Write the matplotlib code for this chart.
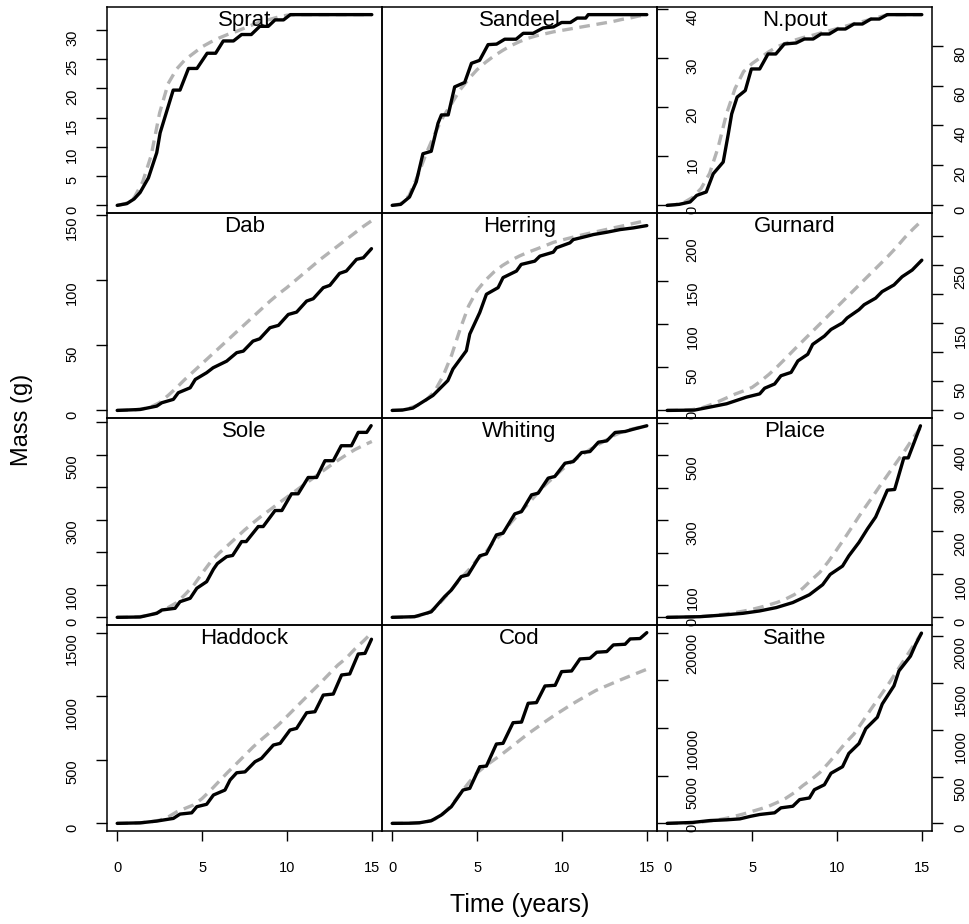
import numpy as np
import matplotlib.pyplot as plt

plt.rcParams['font.family'] = ['Liberation Sans', 'DejaVu Sans']

# half-year grid of the smooth (dashed) growth curves
years = np.linspace(0, 15, 31)
year_ticks = [0, 5, 10, 15]

# ---- data: stepped model (black) and smooth fit (grey) ----
sprat_t = [0, 0.57, 1.0, 1.35, 1.84, 2.33, 2.53, 3.3, 3.7, 4.2, 4.7, 5.3, 5.8, 6.25, 6.85,
           7.33, 7.9, 8.4, 8.9, 9.3, 9.8, 10.2, 15]
sprat_mass = [0, 0.3, 1.1, 2.2, 4.7, 9.0, 12.4, 19.7, 19.7, 23.4, 23.4, 26.0, 26.0, 28.1, 28.1,
              29.2, 29.2, 30.6, 30.6, 31.7, 31.7, 32.6, 32.6]
sprat_fit = [0, 0.3, 1.3, 4.0, 8.5, 15.8, 20.8, 23.3, 24.9, 26.0, 27.1, 27.9, 28.6, 29.2, 29.7,
             30.3, 30.9, 31.4, 31.8, 32.2, 32.5, 32.6, 32.6, 32.6, 32.6, 32.6, 32.6, 32.6, 32.6,
             32.6, 32.6]
sprat_yticks = [0, 5, 10, 15, 20, 25, 30]
sprat_ylabels = ["0", "5", "10", "15", "20", "25", "30"]

sandeel_t = [0, 0.5, 1.02, 1.42, 1.81, 2.3, 2.7, 2.9, 3.3, 3.68, 4.27, 4.67, 5.15, 5.65, 6.15,
             6.63, 7.3, 7.72, 8.3, 8.9, 9.5, 9.98, 10.5, 10.9, 11.4, 11.55, 15]
sandeel_mass = [0, 0.2, 1.7, 4.8, 10.5, 11.0, 16.7, 18.4, 18.4, 24.1, 25.0, 28.9, 29.5, 32.7, 32.8,
                33.8, 33.8, 35.0, 35.0, 36.1, 36.3, 37.2, 37.2, 38.1, 38.1, 38.8, 38.8]
sandeel_fit = [0, 0.3, 2.0, 6.0, 10.5, 14.5, 18.0, 20.7, 23.5, 25.7, 27.6, 29.1, 30.4, 31.5, 32.5,
               33.3, 34.0, 34.5, 34.9, 35.3, 35.6, 35.9, 36.2, 36.5, 36.8, 37.1, 37.4, 37.8, 38.1,
               38.5, 38.8]
sandeel_yticks = [0, 10, 20, 30, 40]
sandeel_ylabels = ["0", "10", "20", "30", "40"]

npout_t = [0, 0.7, 1.35, 1.74, 2.3, 2.71, 3.3, 3.6, 3.8, 4.12, 4.6, 4.96, 5.45, 5.94, 6.4, 6.9,
           7.6, 8.08, 8.6, 9.06, 9.55, 10.04, 10.5, 11.0, 11.5, 12.0, 12.5, 12.96, 15]
npout_mass = [0, 0.5, 1.7, 5.0, 6.7, 15.8, 21.7, 35.8, 45.8, 54.2, 57.5, 68.3, 68.3, 75.8, 75.8,
              80.8, 81.3, 83.3, 83.3, 85.8, 85.8, 88.3, 88.3, 90.8, 90.8, 93.3, 93.3, 95.5, 95.5]
npout_fit = [0, 0.4, 1.5, 4.0, 8.5, 16.0, 29.0, 46.0, 58.5, 67.0, 71.0, 74.0, 77.0, 79.5, 81.2,
             82.7, 84.0, 85.0, 86.2, 87.3, 88.5, 89.7, 90.9, 92.0, 93.2, 94.3, 95.5, 95.5, 95.5,
             95.5, 95.5]
npout_yticks = [0, 20, 40, 60, 80]
npout_ylabels = ["0", "20", "40", "60", "80"]

dab_t = [0, 1.35, 2.33, 2.63, 3.31, 3.6, 4.3, 4.6, 5.27, 5.65, 6.45, 7.04, 7.43, 8.0, 8.4, 9.0,
         9.5, 10.08, 10.57, 11.16, 11.55, 12.14, 12.53, 13.1, 13.5, 14.1, 14.5, 14.98]
dab_mass = [0, 0.7, 3.3, 5.9, 8.5, 13.6, 17.4, 23.8, 29.0, 32.8, 37.9, 44.4, 45.6, 53.3, 55.1,
            63.6, 65.4, 73.8, 75.6, 84.1, 85.9, 94.4, 96.2, 105.4, 107.2, 116.2, 117.4, 124.4]
dab_fit = [0, 0.1, 0.4, 1.2, 2.8, 6.0, 11.5, 17.5, 24.0, 30.0, 36.0, 42.0, 48.0, 54.0, 60.0, 66.0,
           72.0, 78.0, 84.0, 89.5, 94.5, 100.0, 105.5, 111.0, 116.5, 121.5, 126.5, 131.5, 136.5,
           141.5, 146.0]
dab_yticks = [0, 50, 100, 150]
dab_ylabels = ["0", "50", "100", "150"]

herring_t = [0, 0.6, 1.22, 2.4, 3.28, 3.58, 4.37, 4.57, 5.16, 5.55, 6.24, 6.53, 7.32, 7.6, 8.4,
             8.7, 9.49, 9.68, 10.47, 10.67, 11.46, 11.85, 12.64, 13.43, 14.2, 15]
herring_mass = [0, 0.4, 2.7, 17.3, 34.6, 48.0, 69.2, 88.5, 113.5, 134.6, 142.3, 153.9, 161.5,
                169.2, 173.0, 178.8, 183.4, 188.5, 194.2, 198.0, 201.8, 203.8, 206.5, 209.6,
                211.5, 214.2]
herring_fit = [0, 0.4, 2.5, 6.0, 12.0, 22.0, 40.0, 64.0, 94.0, 121.0, 139.0, 151.0, 160.5, 168.0,
               174.0, 179.0, 183.3, 187.0, 190.8, 194.8, 197.5, 200.0, 202.5, 204.8, 207.0, 209.2,
               211.4, 213.5, 215.8, 218.0, 220.0]
herring_yticks = [0, 50, 100, 150, 200]
herring_ylabels = ["0", "50", "100", "150", "200"]

gurnard_t = [0, 1.6, 2.52, 3.5, 4.67, 5.45, 5.74, 6.33, 6.7, 7.3, 7.7, 8.28, 8.57, 9.26, 9.65,
             10.33, 10.6, 11.3, 11.6, 12.28, 12.66, 13.36, 13.84, 14.43, 15.0]
gurnard_mass = [0, 0.5, 5.7, 11.4, 22.8, 28.4, 38.1, 45.4, 59.5, 65.3, 85.0, 96.4, 113.4, 127.6,
                139.0, 150.3, 158.8, 173.0, 181.5, 192.8, 204.0, 215.5, 229.6, 241.0, 258.0]
gurnard_fit = [0, 0.1, 0.5, 1.5, 4.0, 9.0, 15.0, 21.5, 28.0, 33.5, 39.5, 50.0, 62.0, 75.5, 90.0,
               105.0, 119.5, 134.0, 148.5, 163.0, 177.5, 192.0, 206.5, 221.0, 235.5, 250.0,
               264.5, 280.0, 297.0, 312.0, 326.0]
gurnard_yticks = [0, 50, 100, 150, 200, 250, 300]
gurnard_ylabels = ["0", "50", "", "150", "", "250", ""]

sole_t = [0, 1.35, 2.33, 2.63, 3.41, 3.7, 4.3, 4.69, 5.27, 5.67, 5.9, 6.45, 6.8, 7.33, 7.6, 8.31,
          8.6, 9.3, 9.7, 10.27, 10.66, 11.25, 11.75, 12.24, 12.73, 13.2, 13.8, 14.2, 14.7, 14.96]
sole_mass = [0, 1.0, 12.3, 22.5, 27.7, 48.0, 58.5, 89.2, 109.5, 147.7, 165.0, 186.5, 190.0,
             232.6, 232.6, 278.8, 278.8, 328.0, 328.0, 379.4, 379.4, 429.5, 429.5, 481.0, 481.0,
             527.0, 527.0, 568.0, 568.0, 588.6]
sole_fit = [0, 0.2, 1.0, 3.0, 8.0, 17.0, 30.0, 45.0, 70.0, 98.0, 135.0, 170.0, 197.0, 220.0,
            244.0, 268.0, 290.0, 311.0, 330.0, 350.0, 369.0, 388.0, 407.0, 426.0, 445.0, 464.0,
            482.0, 499.0, 515.0, 528.0, 540.0]
sole_yticks = [0, 100, 200, 300, 400, 500, 600]
sole_ylabels = ["0", "100", "", "300", "", "500", ""]

whiting_t = [0, 1.32, 2.3, 3.09, 3.48, 4.07, 4.47, 5.16, 5.55, 6.14, 6.53, 7.22, 7.62, 8.21, 8.6,
             9.19, 9.58, 10.18, 10.67, 11.16, 11.65, 12.15, 12.64, 13.13, 13.72, 14.2, 15.0]
whiting_mass = [0, 2, 17, 64, 84, 126, 131, 190, 196, 254.6, 260, 319.5, 326.6, 378.3, 383.5,
                430, 435, 476, 481, 509, 512, 541, 545, 571, 574, 581, 591.7]
whiting_fit = [0, 0.3, 1.2, 3.5, 10.0, 27.0, 55.0, 86.0, 118.0, 146.0, 178.0, 200.0, 235.0,
               260.0, 293.0, 322.0, 350.0, 380.0, 408.0, 432.0, 456.0, 478.0, 495.0, 513.0,
               530.0, 544.0, 560.0, 572.0, 580.0, 586.0, 592.0]
whiting_yticks = [0, 100, 200, 300, 400, 500, 600]
whiting_ylabels = ["0", "100", "", "300", "", "500", ""]

plaice_t = [0, 1.93, 3.3, 4.47, 5.45, 6.43, 7.4, 8.38, 9.16, 9.6, 10.33, 10.7, 11.3, 11.8, 12.28,
            12.97, 13.4, 13.94, 14.2, 14.92]
plaice_mass = [0, 1.5, 5.4, 9.4, 14.9, 22.7, 34.4, 52.6, 76.0, 99.8, 119.3, 143.0, 174.5, 206.0,
               233.5, 296.0, 297.5, 371.0, 371.0, 445.7]
plaice_fit = [0, 0.1, 0.4, 1.0, 2.0, 3.5, 5.5, 8.0, 11.0, 14.5, 18.5, 23.5, 29.0, 35.0, 43.0,
              53.0, 68.0, 87.0, 105.0, 130.0, 158.0, 187.0, 217.0, 247.0, 275.0, 304.0, 332.0,
              360.0, 388.0, 418.0, 446.0]
plaice_yticks = [0, 100, 200, 300, 400]
plaice_ylabels = ["0", "100", "200", "300", "400"]

haddock_t = [0, 1.35, 2.33, 3.31, 3.7, 4.39, 4.69, 5.27, 5.67, 6.35, 6.65, 7.04, 7.53, 8.12, 8.5,
             9.2, 9.6, 10.18, 10.57, 11.16, 11.65, 12.14, 12.73, 13.22, 13.7, 14.2, 14.6, 14.98]
haddock_mass = [0, 4, 18, 39, 73, 83, 131, 150, 223, 262, 341, 398, 405, 485, 511, 616, 629, 734,
                747, 870, 878, 1009, 1017, 1167, 1175, 1332, 1337, 1448]
haddock_fit = [0, 0.5, 2.0, 6.0, 13.0, 25.0, 50.0, 90.0, 118.0, 145.0, 195.0, 260.0, 330.0,
               400.0, 466.0, 533.0, 600.0, 660.0, 716.0, 775.0, 841.0, 908.0, 975.0, 1042.0,
               1108.0, 1177.0, 1245.0, 1300.0, 1371.0, 1433.0, 1500.0]
haddock_yticks = [0, 500, 1000, 1500]
haddock_ylabels = ["0", "500", "1000", "1500"]

cod_t = [0, 1.0, 1.61, 2.3, 2.89, 3.48, 4.17, 4.57, 5.16, 5.55, 6.14, 6.53, 7.12, 7.62, 8.01, 8.5,
         9.0, 9.6, 9.98, 10.57, 11.06, 11.65, 12.05, 12.64, 13.03, 13.72, 14.02, 14.6, 15.0]
cod_mass = [0, 15, 63, 273, 872, 1744, 3498, 3676, 5945, 6015, 8330, 8400, 10567, 10630, 12605,
            12675, 14422, 14490, 15925, 15995, 17258, 17328, 17962, 18030, 18730, 18800, 19360,
            19400, 20020]
cod_fit = [0, 2, 10, 45, 150, 420, 1000, 1900, 3100, 4250, 5300, 6030, 6670, 7310, 8000, 8700,
           9400, 10025, 10660, 11270, 11840, 12410, 12940, 13450, 13950, 14340, 14720, 15100,
           15460, 15820, 16175]
cod_yticks = [0, 5000, 10000, 15000, 20000]
cod_ylabels = ["0", "5000", "10000", "", "20000"]

saithe_t = [0, 1.5, 2.52, 3.5, 4.28, 4.9, 5.45, 6.33, 6.7, 7.4, 7.8, 8.38, 8.67, 9.26, 9.65,
            10.33, 10.7, 11.3, 11.7, 12.38, 12.67, 13.36, 13.65, 14.33, 14.63, 14.98]
saithe_mass = [0, 10, 30, 38, 48, 75, 95, 113, 166, 183, 254, 272, 360, 413, 536, 606, 748, 854,
               1013, 1135, 1277, 1471, 1630, 1788, 1912, 2035]
saithe_fit = [0, 1, 3, 7, 14, 24, 38, 55, 77, 101, 128, 155, 185, 225, 270, 330, 405, 470, 545,
              645, 750, 860, 955, 1085, 1220, 1350, 1480, 1620, 1760, 1900, 2040]
saithe_yticks = [0, 500, 1000, 1500, 2000]
saithe_ylabels = ["0", "500", "1000", "1500", "2000"]

panels = [
    ("Sprat", sprat_t, sprat_mass, sprat_fit, sprat_yticks, sprat_ylabels),
    ("Sandeel", sandeel_t, sandeel_mass, sandeel_fit, sandeel_yticks, sandeel_ylabels),
    ("N.pout", npout_t, npout_mass, npout_fit, npout_yticks, npout_ylabels),
    ("Dab", dab_t, dab_mass, dab_fit, dab_yticks, dab_ylabels),
    ("Herring", herring_t, herring_mass, herring_fit, herring_yticks, herring_ylabels),
    ("Gurnard", gurnard_t, gurnard_mass, gurnard_fit, gurnard_yticks, gurnard_ylabels),
    ("Sole", sole_t, sole_mass, sole_fit, sole_yticks, sole_ylabels),
    ("Whiting", whiting_t, whiting_mass, whiting_fit, whiting_yticks, whiting_ylabels),
    ("Plaice", plaice_t, plaice_mass, plaice_fit, plaice_yticks, plaice_ylabels),
    ("Haddock", haddock_t, haddock_mass, haddock_fit, haddock_yticks, haddock_ylabels),
    ("Cod", cod_t, cod_mass, cod_fit, cod_yticks, cod_ylabels),
    ("Saithe", saithe_t, saithe_mass, saithe_fit, saithe_yticks, saithe_ylabels),
]

# ---- layout in pixels ----
W, H = 969, 924
col_left = [107, 382, 657]
panel_w = 275
row_top = [7, 213, 418, 625]
row_bottom = [213, 418, 625, 831]
label_pad = [12.0, 12.5, 7.5]

fig = plt.figure(figsize=(W / 100, H / 100), dpi=100)

for i, (name, t, mass, fit, yticks, ylabels) in enumerate(panels):
    row, col = divmod(i, 3)
    x0 = col_left[col]
    y0, y1 = row_top[row], row_bottom[row]
    ax = fig.add_axes([x0 / W, 1 - y1 / H, panel_w / W, (y1 - y0) / H])
    # transparent panels, so the middle column's axis labels show through
    ax.patch.set_visible(False)

    ax.plot(years, fit, color="#b3b3b3", lw=2.4, dashes=(3.2, 2), zorder=2)
    ax.plot(t, mass, color="black", lw=2.4, zorder=3,
            solid_joinstyle="round", solid_capstyle="round")

    top = max(max(mass), max(fit))
    ax.set_ylim(-0.04 * top, 1.04 * top)
    ax.set_xlim(-0.6, 15.6)

    if col > 0:
        ax.yaxis.tick_right()
    ax.set_yticks(yticks)
    ax.set_yticklabels(ylabels, rotation=90, va="top")
    ax.tick_params(axis="y", direction="out", length=8, width=1,
                   labelsize=10.5, pad=label_pad[col])

    if row == 3:
        ax.set_xticks(year_ticks)
        ax.set_xticklabels([str(v) for v in year_ticks])
        ax.tick_params(axis="x", direction="out", length=7.5, width=1,
                       labelsize=10.5, pad=14)
    else:
        ax.set_xticks([])

    for sp in ax.spines.values():
        sp.set_linewidth(1.1)

    ax.text(0.5, 1 - 3 / (y1 - y0), name, transform=ax.transAxes,
            ha="center", va="top", fontsize=16, zorder=4)

fig.text(22 / W, 1 - 420 / H, "Mass (g)", rotation=90,
         ha="center", va="center", fontsize=17)
fig.text(520 / W, 1 - 905 / H, "Time (years)",
         ha="center", va="center", fontsize=18)

fig.savefig("out.png", dpi=100)
